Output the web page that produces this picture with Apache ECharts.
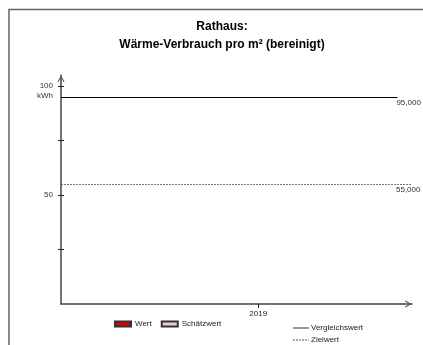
<!DOCTYPE html>
<html>
<head>
<meta charset="utf-8">
<script src="https://cdn.jsdelivr.net/npm/echarts@6/dist/echarts.min.js"></script>
<style>html,body{margin:0;padding:0;background:#fff}#c{width:423px;height:345px}</style>
</head>
<body>
<div id="c"></div>
<script>
var titleLines = ['Rathaus:', 'Wärme-Verbrauch pro m² (bereinigt)'];
var years = [2019];
var wertValues = [];
var schaetzValues = [];
var vergleichswert = 95;
var zielwert = 55;
var yTickValues = [25, 50, 75, 100];
var yLabelValues = [50, 100];
var yUnit = 'kWh';

var X_MIN = 2018.5, X_MAX = 2019.39, X_VGL_END = 2019.353;
var FONT = 'Liberation Sans, Arial, sans-serif';
var chevron = 'path://M5,0 L10,8 L9,9 L5,2 L1,9 L0,8 Z';
var solidIcon = 'path://M0,0 H16 V1 H0 Z';
var dashIcon = 'path://M0,0H2V1H0Z M3,0H5V1H3Z M6,0H8V1H6Z M9,0H11V1H9Z M12,0H14V1H12Z M15,0H16V1H15Z';

function fmt(v){ return v.toFixed(3).replace('.', ','); }

var chart = echarts.init(document.getElementById('c'), null, {renderer:'canvas'});
chart.setOption({
  animation: false,
  backgroundColor: '#fff',
  textStyle: {fontFamily: FONT},
  title: {
    text: titleLines.join('\n'),
    left: 222, top: 18, textAlign: 'center', padding: 0,
    textStyle: {fontSize: 12, fontWeight: 'bold', color: '#000', lineHeight: 18, fontFamily: FONT}
  },
  graphic: [{
    type: 'rect', left: 6.5, top: 7, silent: true,
    shape: {width: 500, height: 500},
    style: {fill: 'none', stroke: '#666', lineWidth: 1.5}
  }],
  legend: [{
    left: 114, top: 320, padding: 0, orient: 'horizontal', itemWidth: 16, itemHeight: 5, itemGap: 9,
    icon: 'rect',
    textStyle: {fontSize: 8, color: '#222', padding: [0,0,0,-1]},
    data: ['Wert', 'Schätzwert']
  }, {
    left: 293, top: 323, padding: 0, height: 40, orient: 'vertical', itemWidth: 16, itemHeight: 1, itemGap: 2,
    symbolKeepAspect: false,
    textStyle: {fontSize: 8, color: '#222', padding: [0,0,0,-3], lineHeight: 10},
    data: [
      {name: 'Vergleichswert', icon: solidIcon, itemStyle: {color: '#333', borderWidth: 0}},
      {name: 'Zielwert', icon: dashIcon, itemStyle: {color: '#555', borderWidth: 0}}
    ]
  }],
  grid: {left: 61, right: 11, top: 75, bottom: 41},
  xAxis: {
    type: 'value', min: X_MIN, max: X_MAX,
    axisLine: {show: true, lineStyle: {color: '#444', width: 1.5}, symbol: ['none', chevron], symbolSize: [7, 8], symbolOffset: [0, -4]},
    axisTick: {show: true, length: 4, lineStyle: {color: '#222'}, customValues: years},
    axisLabel: {show: true, fontSize: 8, color: '#222', margin: 6, customValues: years, formatter: function(v){ return String(v); }},
    splitLine: {show: false}
  },
  yAxis: [{
    type: 'value', min: 0, max: 105,
    axisLine: {show: true, lineStyle: {color: '#444', width: 1.5}, symbol: ['none', chevron], symbolSize: [7, 8], symbolOffset: [0, -4]},
    axisTick: {show: true, length: 3, lineStyle: {color: '#222'}, customValues: yTickValues},
    axisLabel: {show: true, fontSize: 8, color: '#333', margin: 8, lineHeight: 10, customValues: yLabelValues,
      formatter: function(v){ return v === 100 ? '\n100\n' + yUnit : String(v); }},
    splitLine: {show: false}
  }, {
    type: 'value', min: 0, max: 105, position: 'left',
    axisLine: {show: false},
    axisTick: {show: true, inside: true, length: 3, lineStyle: {color: '#222'}, customValues: yTickValues},
    axisLabel: {show: false},
    splitLine: {show: false}
  }],
  series: [{
    name: 'Wert', type: 'bar', data: wertValues,
    itemStyle: {color: '#e00000', borderColor: '#333', borderWidth: 1}
  }, {
    name: 'Schätzwert', type: 'bar', data: schaetzValues,
    itemStyle: {color: '#f6caca', borderColor: '#333', borderWidth: 1}
  }, {
    name: 'Vergleichswert', type: 'line', data: [], symbol: 'none',
    itemStyle: {color: '#000'},
    lineStyle: {color: '#000', width: 1.2},
    markLine: {
      silent: true, symbol: 'none',
      lineStyle: {color: '#000', width: 1.2, type: 'solid'},
      label: {show: true, position: 'end', distance: 0, offset: [-1, 6], fontSize: 8, color: '#333', formatter: fmt(vergleichswert)},
      data: [[{coord: [X_MIN, vergleichswert]}, {coord: [X_VGL_END, vergleichswert]}]]
    }
  }, {
    name: 'Zielwert', type: 'line', data: [], symbol: 'none',
    itemStyle: {color: '#555'},
    lineStyle: {color: '#555', width: 0.8, type: [2, 1]},
    markLine: {
      silent: true, symbol: 'none',
      lineStyle: {color: '#555', width: 0.8, type: [2, 1]},
      label: {show: true, position: 'end', distance: 0, offset: [-16, 6], fontSize: 8, color: '#333', formatter: fmt(zielwert)},
      data: [[{coord: [X_MIN, zielwert]}, {coord: [X_MAX, zielwert]}]]
    }
  }]
});
</script>
</body>
</html>
